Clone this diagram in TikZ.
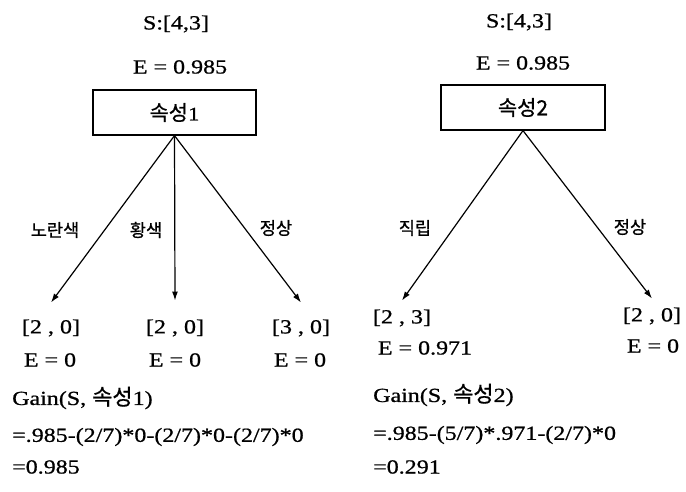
\documentclass[tikz,border=0pt]{standalone}
\usepackage{fontspec}
\usetikzlibrary{arrows.meta}
\setmainfont{Liberation Serif}[FakeStretch=1.2, FakeBold=0.8]
\newfontfamily\kr{Noto Sans CJK KR}[Scale=1.1, FakeBold=0.8]

\begin{document}
\begin{tikzpicture}[x=1pt,y=-1pt,
  txt/.style={font=\fontsize{20}{24}\selectfont, inner sep=0pt},
  lbl/.style={font=\kr\fontsize{16}{18}\selectfont, inner sep=0pt},
  attr/.style={draw, line width=1.2pt, minimum height=45pt, inner sep=0pt, font=\fontsize{19}{22}\selectfont},
  arr/.style={-{Latex[length=9pt,width=6pt]}, line width=1.2pt}]
\useasboundingbox (0,0) rectangle (686,492);

% attribute 1
\node[txt] (S1) at (176,24) {S:[4,3]};
\node[txt] (E1) at (180,67) {E = 0.985};
\node[attr, minimum width=163pt] (A) at (174.5,112.5) {{\kr 속성}1};

\node[txt, outer ysep=17pt] (L1) at (51,328) {[2 , 0]};
\node[txt, outer ysep=19pt] (L2) at (175,328) {[2 , 0]};
\node[txt, outer ysep=17pt] (L3) at (301,328) {[3 , 0]};
\node[txt] (F1) at (50,360) {E = 0};
\node[txt] (F2) at (175,360) {E = 0};
\node[txt] (F3) at (300,360) {E = 0};

\draw[arr] (A.south)--(L1.north);
\draw[arr] (A.south)--(L2.north);
\draw[arr] (A.south)--(L3.north);

\node[lbl] at (55,230) {노란색};
\node[lbl] at (146,230) {황색};
\node[lbl] at (276,228) {정상};

\node[txt, anchor=west] (G1) at (12,398) {Gain(S, {\kr 속성}1)};
\node[txt, anchor=west] (H1) at (12,437) {=.985-(2/7)*0-(2/7)*0-(2/7)*0};
\node[txt, anchor=west] (R1) at (12,467) {=0.985};

% attribute 2
\node[txt] (S2) at (519,22) {S:[4,3]};
\node[txt] (E2) at (523,63) {E = 0.985};
\node[attr, minimum width=164pt] (B) at (523,107.5) {\kr 속성2};

\node[txt, outer ysep=9pt] (M1) at (402,318) {[2 , 3]};
\node[txt, outer ysep=9pt] (M2) at (652,316) {[2 , 0]};
\node[txt] (N1) at (425,348) {E = 0.971};
\node[txt] (N2) at (653,346) {E = 0};

\draw[arr] (B.south)--(M1.north);
\draw[arr] (B.south)--(M2.north);

\node[lbl] at (415,228) {직립};
\node[lbl] at (630,227) {정상};

\node[txt, anchor=west] (G2) at (373,395) {Gain(S, {\kr 속성}2)};
\node[txt, anchor=west] (H2) at (373,435) {=.985-(5/7)*.971-(2/7)*0};
\node[txt, anchor=west] (R2) at (373,467) {=0.291};
\end{tikzpicture}
\end{document}
